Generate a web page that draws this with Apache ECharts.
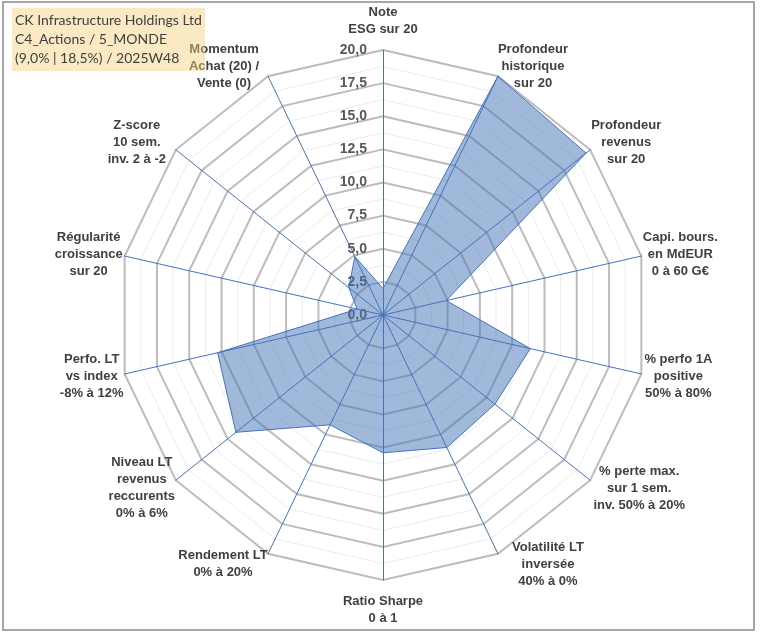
<!DOCTYPE html>
<html>
<head>
<meta charset="utf-8">
<script src="https://cdn.jsdelivr.net/npm/echarts@6/dist/echarts.min.js"></script>
<style>
  html, body { margin: 0; padding: 0; background: #fff; }
  #chart { width: 760px; height: 633px; }
</style>
</head>
<body>
<div id="chart"></div>
<script>
// axes listed clockwise starting at the top
const axisNames = [
  'Note\nESG sur 20',
  'Profondeur\nhistorique\nsur 20',
  'Profondeur\nrevenus\nsur 20',
  'Capi. bours.\nen MdEUR\n0 à 60 G€',
  '% perfo 1A\npositive\n50% à 80%',
  '% perte max.\nsur 1 sem.\ninv. 50% à 20%',
  'Volatilité LT\ninversée\n40% à 0%',
  'Ratio Sharpe\n0 à 1',
  'Rendement LT\n0% à 20%',
  'Niveau LT\nrevenus\nreccurents\n0% à 6%',
  'Perfo. LT\nvs index\n-8% à 12%',
  'Régularité\ncroissance\nsur 20',
  'Z-score\n10 sem.\ninv. 2 à -2',
  'Momentum\nAchat (20) /\nVente (0)'
]
const scores = [2.0, 20.0, 19.6, 4.9, 11.4, 10.8, 11.1, 10.4, 9.2, 14.2, 12.8, 2.0, 3.3, 4.9]
const maxScore = 20

// where each axis name sits relative to the end of its axis (x, y in px)
const nameShift = [
  [0, -29], [35, -10], [36, -7], [39, -2], [37, 2], [49, 8], [50, 11],
  [0, 30], [-45, 10], [-34, 8], [-33, 2], [-36, -2], [-39, -7], [-44, -10]
]

const titleLines = [
  'CK Infrastructure Holdings Ltd',
  'C4_Actions / 5_MONDE',
  '(9,0% | 18,5%) / 2025W48'
]

// echarts radar runs counter-clockwise, so flip the order after the first axis
const order = [0].concat(axisNames.map((d, i) => i).slice(1).reverse())

// vertical part of the shift goes into nameGap (along the axis),
// what is left horizontally goes into asymmetric padding of the centred text
function nameLayout(i) {
  const a = i * 2 * Math.PI / axisNames.length
  const s = nameShift[i]
  const gap = Math.abs(Math.cos(a)) > 0.1 ? -s[1] / Math.cos(a) : 0
  const dx = (s[0] - gap * Math.sin(a)) * 2
  return { nameGap: gap, padding: [0, Math.max(-dx, 0), 0, Math.max(dx, 0)] }
}

const indicatorsMajor = order.map((i, k) => ({
  name: axisNames[i],
  min: 0,
  max: maxScore,
  axisLabel: { show: k === 0 }
}))
const indicatorsMinor = order.map(i => {
  const l = nameLayout(i)
  return {
    name: axisNames[i],
    min: 0,
    max: maxScore,
    nameGap: l.nameGap,
    nameTextStyle: { padding: l.padding }
  }
})
const values = order.map(i => scores[i])

const chart = echarts.init(document.getElementById('chart'))
const option = {
  animation: false,
  title: {
    text: titleLines.join('\n'),
    left: 12,
    top: 8,
    padding: [3, 3, 3, 3],
    backgroundColor: 'rgba(247,207,125,0.45)',
    textStyle: {
      fontFamily: 'Lato',
      fontSize: 14,
      fontWeight: 'normal',
      color: '#404040',
      lineHeight: 19
    }
  },
  graphic: [{
    type: 'rect',
    shape: { x: 3, y: 2, width: 751, height: 628 },
    style: { fill: 'none', stroke: '#a6a6a6', lineWidth: 2 },
    silent: true
  }],
  radar: [{
    center: [383, 315],
    radius: 265,
    shape: 'polygon',
    splitNumber: 8,
    indicator: indicatorsMajor,
    axisName: { show: false },
    axisLine: { show: false },
    splitArea: { show: false },
    splitLine: { lineStyle: { color: '#bcbcbc', width: 2 } },
    axisLabel: {
      show: false,
      margin: 16,
      color: '#595959',
      fontFamily: 'Liberation Sans',
      fontSize: 14,
      fontWeight: 'bold',
      formatter: v => v.toFixed(1).replace('.', ',')
    }
  }, {
    center: [383, 315],
    radius: 265,
    shape: 'polygon',
    splitNumber: 16,
    indicator: indicatorsMinor,
    axisName: {
      color: '#404040',
      fontFamily: 'Liberation Sans',
      fontSize: 13,
      fontWeight: 'bold',
      lineHeight: 17,
      align: 'center',
      verticalAlign: 'middle'
    },
    axisLine: { lineStyle: { color: '#4472c4', width: 1 } },
    splitArea: { show: false },
    splitLine: { lineStyle: { color: ['rgba(0,0,0,0)', '#ebebeb'], width: 1 } }
  }],
  series: [{
    type: 'radar',
    radarIndex: 1,
    symbol: 'none',
    lineStyle: { color: '#4472c4', width: 1 },
    areaStyle: { color: 'rgba(68,114,180,0.72)' },
    data: [{ value: values, name: 'Score' }]
  }]
}
chart.setOption(option)
</script>
</body>
</html>
